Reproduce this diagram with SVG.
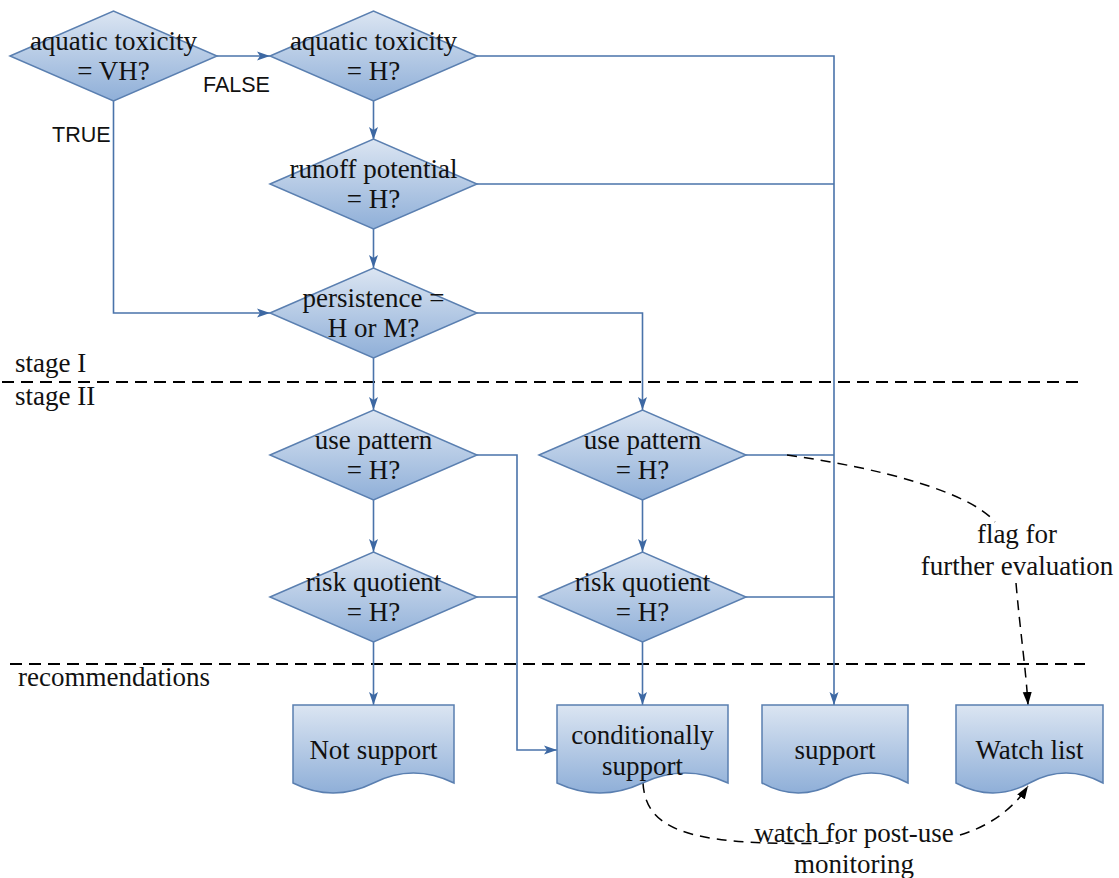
<svg xmlns="http://www.w3.org/2000/svg" width="1119" height="878" viewBox="0 0 1119 878">
<defs>
<linearGradient id="g" x1="0" y1="0" x2="0" y2="1">
<stop offset="0" stop-color="#dbe5f2"/>
<stop offset="1" stop-color="#8fafd8"/>
</linearGradient>
<marker id="ab" markerUnits="userSpaceOnUse" markerWidth="14" markerHeight="10" refX="13" refY="5" orient="auto">
<path d="M0,0.5 L13,5 L0,9.5 L3,5 z" fill="#3d68a3"/>
</marker>
<marker id="ak" markerUnits="userSpaceOnUse" markerWidth="14" markerHeight="10" refX="13" refY="5" orient="auto">
<path d="M0,0.5 L13,5 L0,9.5 z" fill="#000"/>
</marker>
<style>
.d{fill:url(#g);stroke:#5a7fb0;stroke-width:1.5}
.c{fill:none;stroke:#4a73aa;stroke-width:1.6}
.a{marker-end:url(#ab)}
.dash{fill:none;stroke:#000;stroke-width:1.8;stroke-dasharray:12 7}
.dc{fill:none;stroke:#000;stroke-width:1.5;stroke-dasharray:10 7}
.t{font-size:27px;fill:#111;text-anchor:middle}
.s{font-size:27px;fill:#111}
.l{font-family:'Liberation Sans',Arial,sans-serif;font-size:21.5px;fill:#111}
</style>
</defs>
<rect width="1119" height="878" fill="#fff"/>
<g font-family="Liberation Serif, Times New Roman, Tinos, DejaVu Serif, Noto Serif, FreeSerif, serif">
<g id="separators">
<line class="dash" x1="2" y1="382" x2="1085" y2="382"/>
<line class="dash" x1="10" y1="664" x2="1085" y2="664"/>
<text class="s" x="15" y="372">stage I</text>
<text class="s" x="15" y="405">stage II</text>
<text class="s" x="18" y="686">recommendations</text>
</g>

<g id="connectors">
<path class="c a" d="M217,56 H270"/>
<path class="c a" d="M113.5,101 V313 H270"/>
<path class="c a" d="M373.5,101 V140"/>
<path class="c a" d="M373.5,229 V268"/>
<path class="c a" d="M373.5,358 V410"/>
<path class="c a" d="M477,313 H642.5 V410"/>
<path class="c a" d="M373.5,500 V552"/>
<path class="c a" d="M642.5,500 V552"/>
<path class="c a" d="M373.5,642 V705"/>
<path class="c a" d="M642.5,642 V705"/>
<path class="c a" d="M477,56 H834 V705"/>
<path class="c" d="M477,184 H834"/>
<path class="c" d="M746,455 H834"/>
<path class="c" d="M746,597 H834"/>
<path class="c a" d="M477,455 H517 V750 H557"/>
<path class="c" d="M477,597 H517"/>
<path class="dc" d="M787,455 C880,468 970,492 995,522"/>
<path class="dc" d="M1016,583 C1020,630 1026,670 1028,705" marker-end="url(#ak)"/>
<path class="dc" d="M643,783 C646,835 700,846 840,843"/>
<path class="dc" d="M960,835 C990,826 1014,808 1028,786" marker-end="url(#ak)"/>
<text class="l" x="203" y="92">FALSE</text>
<text class="l" x="52" y="142">TRUE</text>
<text class="t" x="1017" y="543">flag for</text>
<text class="t" x="1017" y="575">further evaluation</text>
<text class="t" x="854" y="842">watch for post-use</text>
<text class="t" x="854" y="873">monitoring</text>
</g>

<g id="d1"><polygon class="d" points="10,56 113.5,11 217,56 113.5,101"/>
<text class="t" x="113.5" y="50">aquatic toxicity</text><text class="t" x="113.5" y="80">= VH?</text></g>
<g id="d2"><polygon class="d" points="270,56 373.5,11 477,56 373.5,101"/>
<text class="t" x="373.5" y="50">aquatic toxicity</text><text class="t" x="373.5" y="80">= H?</text></g>
<g id="d3"><polygon class="d" points="270,184 373.5,139 477,184 373.5,229"/>
<text class="t" x="373.5" y="178">runoff potential</text><text class="t" x="373.5" y="208">= H?</text></g>
<g id="d4"><polygon class="d" points="270,313 373.5,268 477,313 373.5,358"/>
<text class="t" x="373.5" y="307">persistence =</text><text class="t" x="373.5" y="337">H or M?</text></g>
<g id="d5"><polygon class="d" points="270,455 373.5,410 477,455 373.5,500"/>
<text class="t" x="373.5" y="449">use pattern</text><text class="t" x="373.5" y="479">= H?</text></g>
<g id="d6"><polygon class="d" points="539,455 642.5,410 746,455 642.5,500"/>
<text class="t" x="642.5" y="449">use pattern</text><text class="t" x="642.5" y="479">= H?</text></g>
<g id="d7"><polygon class="d" points="270,597 373.5,552 477,597 373.5,642"/>
<text class="t" x="373.5" y="591">risk quotient</text><text class="t" x="373.5" y="621">= H?</text></g>
<g id="d8"><polygon class="d" points="539,597 642.5,552 746,597 642.5,642"/>
<text class="t" x="642.5" y="591">risk quotient</text><text class="t" x="642.5" y="621">= H?</text></g>

<g id="notsupport"><path class="d" d="M293,705 H454 V783 Q413,763 373.5,783 Q333,803 293,783 Z"/>
<text class="t" x="373.5" y="759">Not support</text></g>
<g id="conditionally"><path class="d" d="M557,705 H728 V783 Q685,763 642.5,783 Q600,803 557,783 Z"/>
<text class="t" x="642.5" y="744">conditionally</text><text class="t" x="642.5" y="775">support</text></g>
<g id="support"><path class="d" d="M762,705 H908 V783 Q871,763 835,783 Q798,803 762,783 Z"/>
<text class="t" x="835" y="759">support</text></g>
<g id="watchlist"><path class="d" d="M956,705 H1103 V783 Q1066,763 1029.5,783 Q993,803 956,783 Z"/>
<text class="t" x="1029.5" y="759">Watch list</text></g>
</g>
</svg>
